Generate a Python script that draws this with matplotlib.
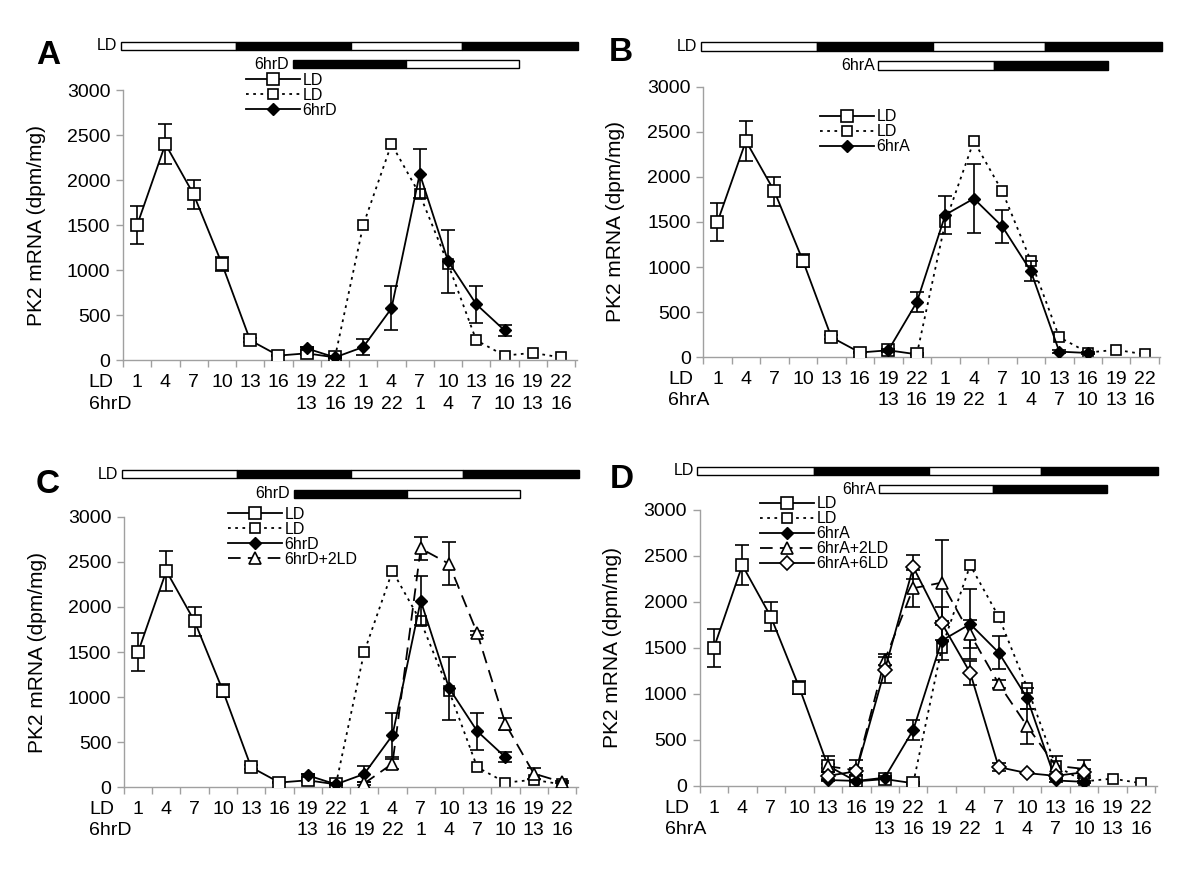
import numpy as np
import matplotlib
matplotlib.use("Agg")
import matplotlib.pyplot as plt
from matplotlib.lines import Line2D
from matplotlib.patches import Rectangle

plt.rcParams['font.family'] = ['Liberation Sans', 'DejaVu Sans']

########## DATA ##########
ld_row = ["1", "4", "7", "10", "13", "16", "19", "22", "1", "4", "7", "10", "13", "16", "19", "22"]
shift_row = ["", "", "", "", "", "", "13", "16", "19", "22", "1", "4", "7", "10", "13", "16"]

# LD (solid) first day
ld_x = [0, 1, 2, 3, 4, 5, 6, 7]
ld_y = [1500, 2400, 1840, 1070, 220, 50, 75, 30]
ld_err = [210, 220, 160, 75, 20, 10, 15, 10]

# LD repeated (dotted)
ld2_x = [7, 8, 9, 10, 11, 12, 13, 14, 15]
ld2_y = [30, 1500, 2400, 1840, 1070, 220, 50, 80, 30]

# 6hrD
d6_x = [6, 7, 8, 9, 10, 11, 12, 13]
d6_y = [130, 30, 145, 575, 2070, 1100, 620, 330]
d6_err = [20, 10, 90, 245, 270, 350, 205, 57]

# 6hrD+2LD
d62_x = [8, 9, 10, 11, 12, 13, 14, 15]
d62_y = [40, 260, 2650, 2480, 1710, 700, 150, 55]
d62_err = [15, 55, 130, 240, 25, 70, 65, 15]

# 6hrA (panel B)
a6_x = [6, 7, 8, 9, 10, 11, 12, 13]
a6_y = [75, 610, 1580, 1760, 1450, 955, 60, 45]
a6_err = [15, 110, 210, 380, 180, 115, 15, 10]

# panel D series
a6d_x = [4, 5, 6, 7, 8, 9, 10, 11, 12, 13]
a6d_y = [65, 55, 90, 610, 1580, 1760, 1450, 955, 60, 45]
a6d_err = [15, 10, 15, 110, 210, 380, 180, 115, 15, 10]

a62_x = [4, 5, 6, 7, 8, 9, 10, 11, 12, 13]
a62_y = [215, 170, 1370, 2150, 2210, 1650, 1110, 650, 220, 185]
a62_err = [110, 110, 60, 200, 460, 150, 40, 190, 110, 100]

a66_x = [4, 5, 6, 7, 8, 9, 10, 11, 12, 13]
a66_y = [110, 160, 1260, 2380, 1770, 1230, 205, 140, 110, 150]
a66_err = [40, 40, 140, 130, 180, 130, 40, 15, 20, 40]

########## STYLES ##########
st_ld = dict(ls="-", marker="s", ms=8, mfc="white", mec="black", color="black", lw=1.3, mew=1.2)
st_ld2 = dict(ls=(0, (1.5, 2.5)), marker="s", ms=7, mfc="white", mec="black", color="black", lw=1.3, mew=1.2)
st_fill = dict(ls="-", marker="D", ms=6.5, mfc="black", mec="black", color="black", lw=1.3)
st_tri = dict(ls=(0, (7, 4)), marker="^", ms=8.5, mfc="white", mec="black", color="black", lw=1.3, mew=1.2)
st_odia = dict(ls="-", marker="D", ms=7, mfc="white", mec="black", color="black", lw=1.3, mew=1.2)

gray = "#a0a0a0"


def series(ax, x, y, err, st, z):
    if err is not None:
        ax.errorbar(x, y, yerr=err, fmt="none", ecolor="black", elinewidth=1.2,
                    capsize=5, capthick=1.2, zorder=z)
    ax.plot(x, y, zorder=z + 0.5, **st)


def setup(ax, second, letter, lx, ly):
    ax.set_xlim(-0.5, 15.55)
    ax.set_ylim(0, 3000)
    ax.set_yticks(np.arange(0, 3001, 500))
    ax.set_xticks(np.arange(16))
    ax.set_xticklabels([f"{a}\n{b}" for a, b in zip(ld_row, shift_row)], linespacing=1.35)
    ax.set_xticks(np.arange(-0.5, 16, 1), minor=True)
    ax.tick_params(axis="x", which="major", length=0, pad=10, labelsize=14)
    ax.tick_params(axis="x", which="minor", length=5, color=gray, width=1)
    ax.tick_params(axis="y", length=5, color=gray, width=1, labelsize=14, pad=4)
    for s in ["top", "right"]:
        ax.spines[s].set_visible(False)
    for s in ["left", "bottom"]:
        ax.spines[s].set_color(gray)
        ax.spines[s].set_linewidth(1)
    ax.set_ylabel("PK2 mRNA (dpm/mg)", fontsize=15)
    ax.yaxis.set_label_coords(-0.17, 0.5)
    ax.annotate("LD\n" + second, xy=(-1.72, 0), xycoords=("data", "axes fraction"),
                xytext=(0, -10), textcoords="offset points", ha="left", va="top",
                fontsize=14, linespacing=1.35, annotation_clip=False)
    ax.figure.text(lx, ly, letter, fontsize=24, fontweight="bold", ha="center", va="center")


def bars(ax, second, edges2, dark_first, y1, y2, h):
    trans = ax.get_xaxis_transform()
    edges1 = [-0.58, 3.5, 7.55, 11.5, 15.6]
    cols1 = ["white", "black", "white", "black"]
    for i in range(4):
        ax.add_patch(Rectangle((edges1[i], y1), edges1[i + 1] - edges1[i], h, transform=trans,
                               facecolor=cols1[i], edgecolor="black", lw=1, clip_on=False))
    cols2 = ["black", "white"] if dark_first else ["white", "black"]
    for i in range(2):
        ax.add_patch(Rectangle((edges2[i], y2), edges2[i + 1] - edges2[i], h, transform=trans,
                               facecolor=cols2[i], edgecolor="black", lw=1, clip_on=False))
    ax.text(edges1[0] - 0.12, y1 + h / 2, "LD", transform=trans, ha="right", va="center", fontsize=11.5)
    ax.text(edges2[0] - 0.12, y2 + h / 2, second, transform=trans, ha="right", va="center", fontsize=11.5)


def legend(ax, items, x, y):
    handles = [Line2D([], [], **st) for st, lab in items]
    labels = [lab for st, lab in items]
    ax.figure.legend(handles, labels, loc="upper left", bbox_to_anchor=(x, y), frameon=False,
                     fontsize=11.5, handlelength=3.4, handletextpad=0.15, labelspacing=0.0,
                     borderpad=0, borderaxespad=0, numpoints=1)


fig = plt.figure(figsize=(12, 8.74), dpi=100)
axA = fig.add_axes([0.1025, 0.588, 0.378, 0.309])
axB = fig.add_axes([0.586, 0.5915, 0.381, 0.309])
axC = fig.add_axes([0.1033, 0.0995, 0.378, 0.309])
axD = fig.add_axes([0.583, 0.1007, 0.381, 0.3158])

# A
series(axA, ld_x, ld_y, ld_err, st_ld, 3)
series(axA, ld2_x, ld2_y, None, st_ld2, 2)
series(axA, d6_x, d6_y, d6_err, st_fill, 4)
setup(axA, "6hrD", "A", 0.040, 0.937)
bars(axA, "6hrD", [5.5, 9.5, 13.5], True, 1.148, 1.08, 0.031)
legend(axA, [(st_ld, "LD"), (st_ld2, "LD"), (st_fill, "6hrD")], 0.205, 0.917)

# B
series(axB, ld_x, ld_y, ld_err, st_ld, 3)
series(axB, ld2_x, ld2_y, None, st_ld2, 2)
series(axB, a6_x, a6_y, a6_err, st_fill, 4)
setup(axB, "6hrA", "B", 0.517, 0.940)
bars(axB, "6hrA", [5.65, 9.7, 13.7], False, 1.135, 1.064, 0.031)
legend(axB, [(st_ld, "LD"), (st_ld2, "LD"), (st_fill, "6hrA")], 0.683, 0.875)

# C
series(axC, ld_x, ld_y, ld_err, st_ld, 3)
series(axC, ld2_x, ld2_y, None, st_ld2, 2)
series(axC, d6_x, d6_y, d6_err, st_fill, 4)
series(axC, d62_x, d62_y, d62_err, st_tri, 5)
setup(axC, "6hrD", "C", 0.040, 0.446)
bars(axC, "6hrD", [5.5, 9.5, 13.5], True, 1.143, 1.07, 0.031)
legend(axC, [(st_ld, "LD"), (st_ld2, "LD"), (st_fill, "6hrD"), (st_tri, "6hrD+2LD")], 0.19, 0.420)

# D
series(axD, ld_x, ld_y, ld_err, st_ld, 3)
series(axD, ld2_x, ld2_y, None, st_ld2, 2)
series(axD, a6d_x, a6d_y, a6d_err, st_fill, 4)
series(axD, a62_x, a62_y, a62_err, st_tri, 5)
series(axD, a66_x, a66_y, a66_err, st_odia, 6)
setup(axD, "6hrA", "D", 0.518, 0.451)
bars(axD, "6hrA", [5.8, 9.8, 13.8], False, 1.127, 1.06, 0.030)
legend(axD, [(st_ld, "LD"), (st_ld2, "LD"), (st_fill, "6hrA"), (st_tri, "6hrA+2LD"), (st_odia, "6hrA+6LD")],
       0.633, 0.432)

fig.savefig("out.png", dpi=100)
